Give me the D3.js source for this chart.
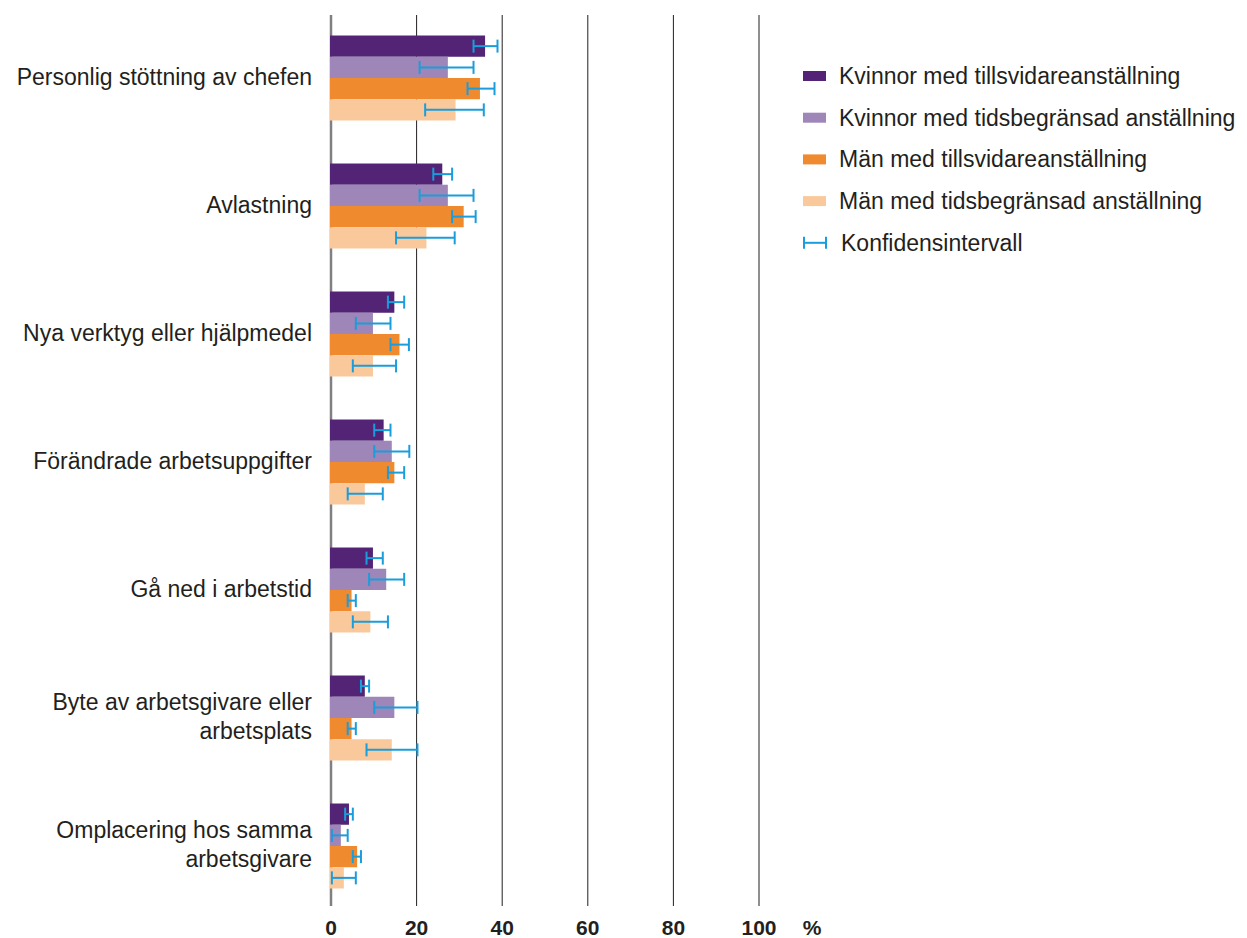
<!DOCTYPE html>
<html>
<head>
<meta charset="utf-8">
<script src="https://cdn.jsdelivr.net/npm/d3@7"></script>
<style>
body { margin: 0; background: #fff; }
text { font-family: "Liberation Sans", Arial, sans-serif; fill: #231f20; }
</style>
</head>
<body>
<script>
var width = 1247, height = 938;

var categories = [
  ["Personlig stöttning av chefen"],
  ["Avlastning"],
  ["Nya verktyg eller hjälpmedel"],
  ["Förändrade arbetsuppgifter"],
  ["Gå ned i arbetstid"],
  ["Byte av arbetsgivare eller", "arbetsplats"],
  ["Omplacering hos samma", "arbetsgivare"]
];
var series = [
  "Kvinnor med tillsvidareanställning",
  "Kvinnor med tidsbegränsad anställning",
  "Män med tillsvidareanställning",
  "Män med tidsbegränsad anställning"
];
var colors = ["#532476", "#9f86b8", "#f08a2e", "#f9c99c"];

// värden i procent, en rad per serie, en kolumn per kategori
var values = [
  [36.0, 26.0, 14.8, 12.3, 9.8, 7.9, 4.2],
  [27.3, 27.3, 9.8, 14.2, 12.9, 14.8, 2.3],
  [34.8, 31.0, 16.0, 14.8, 4.8, 4.8, 6.1],
  [29.1, 22.3, 9.8, 7.9, 9.2, 14.2, 3.0]
];
var ciLow = [
  [33.3, 23.9, 13.3, 10.1, 8.3, 7.0, 3.3],
  [20.7, 20.7, 5.8, 10.1, 8.9, 10.1, 0.2],
  [31.9, 28.3, 13.9, 13.3, 3.9, 3.9, 5.1],
  [22.0, 15.2, 5.1, 3.9, 5.1, 8.3, 0.2]
];
var ciHigh = [
  [38.9, 28.3, 17.1, 13.9, 12.1, 8.9, 5.1],
  [33.3, 33.3, 13.9, 18.3, 17.1, 20.2, 3.9],
  [38.2, 33.8, 18.2, 17.1, 5.8, 5.8, 7.0],
  [35.7, 28.9, 15.2, 12.1, 13.3, 20.2, 5.8]
];
var ticks = [0, 20, 40, 60, 80, 100];

var svg = d3.select("body").append("svg")
  .attr("width", width)
  .attr("height", height);

var x = d3.scaleLinear().domain([0, 100]).range([331, 759]);
var y = d3.scaleBand().domain(d3.range(categories.length))
  .range([14, 910]).paddingInner(0.336).paddingOuter(0.168);
var ySub = d3.scaleBand().domain(d3.range(series.length)).range([0, y.bandwidth()]);

// rutnät
svg.append("g").selectAll("line")
  .data(ticks).enter().append("line")
  .attr("x1", function(d) { return x(d); })
  .attr("x2", function(d) { return x(d); })
  .attr("y1", 15).attr("y2", 906)
  .attr("stroke", function(d) { return d === 0 ? "#808080" : "#231f20"; })
  .attr("stroke-width", function(d) { return d === 0 ? 2.5 : 1; });

// staplar
var groups = svg.append("g").selectAll("g")
  .data(categories).enter().append("g")
  .attr("transform", function(d, i) { return "translate(0," + y(i) + ")"; });

groups.each(function(c, ci) {
  var g = d3.select(this);
  series.forEach(function(s, si) {
    g.append("rect")
      .attr("x", x(0) - 1)
      .attr("y", ySub(si))
      .attr("width", x(values[si][ci]) - x(0) + 1)
      .attr("height", ySub.bandwidth())
      .attr("fill", colors[si]);
  });
  series.forEach(function(s, si) {
    var cy = ySub(si) + ySub.bandwidth() / 2;
    var x1 = x(ciLow[si][ci]), x2 = x(ciHigh[si][ci]);
    var eb = g.append("g").attr("stroke", "#1a9ddb").attr("stroke-width", 2);
    eb.append("line").attr("x1", x1).attr("x2", x2).attr("y1", cy).attr("y2", cy);
    eb.append("line").attr("x1", x1).attr("x2", x1).attr("y1", cy - 6.5).attr("y2", cy + 6.5);
    eb.append("line").attr("x1", x2).attr("x2", x2).attr("y1", cy - 6.5).attr("y2", cy + 6.5);
  });
});

// kategorietiketter
groups.append("text")
  .attr("text-anchor", "end")
  .attr("font-size", 23)
  .selectAll("tspan")
  .data(function(d) { return d.map(function(t, i) { return { t: t, i: i, n: d.length }; }); })
  .enter().append("tspan")
  .attr("x", 312)
  .attr("y", function(d) { return y.bandwidth() / 2 + 7 + (d.i - (d.n - 1) / 2) * 29; })
  .text(function(d) { return d.t; });

// x-axel etiketter
svg.append("g").selectAll("text")
  .data(ticks).enter().append("text")
  .attr("x", function(d) { return x(d); })
  .attr("y", 935)
  .attr("text-anchor", "middle")
  .attr("font-size", 21)
  .attr("font-weight", "bold")
  .text(function(d) { return d; });
svg.append("text")
  .attr("x", 812).attr("y", 935)
  .attr("text-anchor", "middle")
  .attr("font-size", 21)
  .attr("font-weight", "bold")
  .text("%");

// förklaring
var legend = svg.append("g");
series.forEach(function(s, i) {
  var ly = 76 + i * 41.7;
  legend.append("rect")
    .attr("x", 803).attr("y", ly - 5)
    .attr("width", 23).attr("height", 10)
    .attr("fill", colors[i]);
  legend.append("text")
    .attr("x", 839).attr("y", ly + 8)
    .attr("font-size", 23)
    .text(s);
});
var ly = 76 + 4 * 41.7;
var li = legend.append("g").attr("stroke", "#1a9ddb").attr("stroke-width", 2);
li.append("line").attr("x1", 804).attr("x2", 826).attr("y1", ly).attr("y2", ly);
li.append("line").attr("x1", 804).attr("x2", 804).attr("y1", ly - 6).attr("y2", ly + 6);
li.append("line").attr("x1", 826).attr("x2", 826).attr("y1", ly - 6).attr("y2", ly + 6);
legend.append("text")
  .attr("x", 841).attr("y", ly + 8)
  .attr("font-size", 23)
  .text("Konfidensintervall");
</script>
</body>
</html>
